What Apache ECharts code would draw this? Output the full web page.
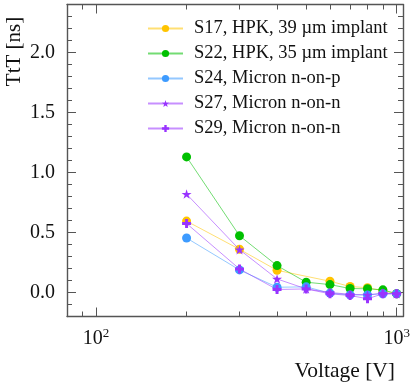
<!DOCTYPE html>
<html>
<head>
<meta charset="utf-8">
<script src="https://cdn.jsdelivr.net/npm/echarts@6/dist/echarts.min.js"></script>
<style>
  html, body { margin: 0; padding: 0; background: #fff; }
  #chart { width: 415px; height: 382px; }
</style>
</head>
<body>
<div id="chart"></div>
<script>
// bias voltages [V]
var voltages = [200, 300, 400, 500, 600, 700, 800, 900, 1000];
// TtT [ns] per sensor (null = no point)
var s17 = [0.595, 0.36, 0.185, null, 0.094, 0.05, 0.04, 0.015, -0.01];
var s22 = [1.13, 0.473, 0.224, 0.086, 0.066, 0.033, 0.031, 0.022, -0.01];
var s24 = [0.454, 0.188, 0.044, 0.047, -0.005, -0.02, -0.02, -0.01, -0.01];
var s27 = [0.82, 0.357, 0.113, 0.03, 0.0, -0.015, -0.02, -0.005, -0.01];
var s29 = [0.575, 0.196, 0.025, 0.03, -0.011, -0.025, -0.052, -0.011, -0.011];

var seriesNames = [
  'S17, HPK, 39 µm implant',
  'S22, HPK, 35 µm implant',
  'S24, Micron n-on-p',
  'S27, Micron n-on-n',
  'S29, Micron n-on-n'
];

// tick labels / tick positions
var yMajorTicks = [0, 0.5, 1.0, 1.5, 2.0];
var yMinorTicks = [-0.1, 0.1, 0.2, 0.3, 0.4, 0.6, 0.7, 0.8, 0.9, 1.1, 1.2, 1.3, 1.4,
                   1.6, 1.7, 1.8, 1.9, 2.1, 2.2, 2.3];
var xMinorTicks = [90, 200, 300, 400, 500, 600, 700, 800, 900];

var colors = ['#ffc400', '#00c000', '#3d9bff', '#9933ff', '#9933ff'];
var STAR = 'path://M0,-100 L22,-31 L95,-31 L36,12 L59,81 L0,38 L-59,81 L-36,12 L-95,-31 L-22,-31Z';
var PLUS = 'path://M-33,-100 L33,-100 L33,-33 L100,-33 L100,33 L33,33 L33,100 L-33,100 L-33,33 L-100,33 L-100,-33 L-33,-33Z';
var symbols = ['circle', 'circle', 'circle', STAR, PLUS];
var symbolSizes = [9, 9, 9, 10, 9];

var FONT = '"Liberation Serif", "DejaVu Serif", serif';
var axisColor = '#555';
var xMin = 80, xMax = 1050, yMin = -0.2, yMax = 2.4;

function pairs(ys) {
  return voltages.map(function (v, i) {
    return [v, ys[i] === null ? '-' : ys[i]];
  });
}

var allData = [s17, s22, s24, s27, s29];

var series = allData.map(function (ys, i) {
  return {
    name: seriesNames[i],
    type: 'line',
    xAxisIndex: 0,
    yAxisIndex: 0,
    data: pairs(ys),
    connectNulls: true,
    symbol: symbols[i],
    symbolSize: symbolSizes[i],
    symbolKeepAspect: true,
    showSymbol: true,
    itemStyle: { color: colors[i], opacity: 1 },
    lineStyle: { color: colors[i], width: 1, opacity: 0.55 },
    emphasis: { disabled: true },
    z: 2 + i
  };
});

var lineStyle = { color: axisColor, width: 1.4 };
var hiddenLine = { color: axisColor, width: 1, opacity: 0 };
var tickStyle = { color: axisColor, width: 1 };

// every axis sits on the frame edge, never on zero
function tickAxis(base, extra) {
  return Object.assign({
    splitLine: { show: false },
    axisLabel: { show: false },
    axisLine: { show: true, onZero: false, lineStyle: hiddenLine },
    silent: true
  }, base, extra);
}

var xLogLabel = function (v) {
  var e = Math.round(Math.log10(v));
  if (Math.abs(Math.pow(10, e) - v) > 1e-6 * v) return '';
  return '{b|10}{s|' + e + '}';
};

var xAxes = [
  tickAxis({ type: 'log', min: xMin, max: xMax, position: 'bottom' }, {
    axisLine: { show: true, onZero: false, lineStyle: lineStyle },
    axisTick: { show: true, inside: true, length: 9, lineStyle: tickStyle },
    axisLabel: {
      show: true, margin: 11, formatter: xLogLabel,
      showMinLabel: false, showMaxLabel: false,
      rich: {
        b: { fontFamily: FONT, fontSize: 20, color: '#111', lineHeight: 22 },
        s: { fontFamily: FONT, fontSize: 13, color: '#111', verticalAlign: 'top', lineHeight: 13 }
      }
    }
  }),
  tickAxis({ type: 'log', min: xMin, max: xMax, position: 'top' }, {
    axisLine: { show: true, onZero: false, lineStyle: lineStyle },
    axisTick: { show: true, inside: true, length: 9, lineStyle: tickStyle }
  }),
  tickAxis({ type: 'value', min: Math.log10(xMin), max: Math.log10(xMax), position: 'bottom' }, {
    axisTick: { show: true, inside: true, length: 5, lineStyle: tickStyle,
      customValues: xMinorTicks.map(function (t) { return Math.log10(t); }) }
  }),
  tickAxis({ type: 'value', min: Math.log10(xMin), max: Math.log10(xMax), position: 'top' }, {
    axisTick: { show: true, inside: true, length: 5, lineStyle: tickStyle,
      customValues: xMinorTicks.map(function (t) { return Math.log10(t); }) }
  })
];

var yAxes = [
  tickAxis({ type: 'value', min: yMin, max: yMax, position: 'left' }, {
    axisLine: { show: true, onZero: false, lineStyle: lineStyle },
    axisTick: { show: true, inside: true, length: 9, lineStyle: tickStyle, customValues: yMajorTicks },
    axisLabel: {
      show: true, margin: 12, customValues: yMajorTicks,
      fontFamily: FONT, fontSize: 20, color: '#111',
      formatter: function (v) { return v.toFixed(1); }
    }
  }),
  tickAxis({ type: 'value', min: yMin, max: yMax, position: 'right' }, {
    axisLine: { show: true, onZero: false, lineStyle: lineStyle },
    axisTick: { show: true, inside: true, length: 9, lineStyle: tickStyle, customValues: yMajorTicks }
  }),
  tickAxis({ type: 'value', min: yMin, max: yMax, position: 'left' }, {
    axisTick: { show: true, inside: true, length: 5, lineStyle: tickStyle, customValues: yMinorTicks }
  }),
  tickAxis({ type: 'value', min: yMin, max: yMax, position: 'right' }, {
    axisTick: { show: true, inside: true, length: 5, lineStyle: tickStyle, customValues: yMinorTicks }
  })
];

var chart = echarts.init(document.getElementById('chart'));
chart.setOption({
  animation: false,
  backgroundColor: '#fff',
  grid: { left: 67, right: 12, top: 4.5, bottom: 65.5, containLabel: false },
  xAxis: xAxes,
  yAxis: yAxes,
  legend: {
    orient: 'vertical',
    left: 142,
    top: 14,
    itemWidth: 35,
    itemHeight: 9,
    itemGap: 6,
    selectedMode: false,
    data: seriesNames,
    textStyle: { fontFamily: FONT, fontSize: 18.5, color: '#111', lineHeight: 18, padding: [0, 0, 0, 6] }
  },
  graphic: [
    {
      type: 'text', x: 14.5, y: 51.5, rotation: Math.PI / 2,
      style: { text: 'TtT [ns]', fontFamily: FONT, fontSize: 21, fill: '#111', align: 'center', verticalAlign: 'middle' }
    },
    {
      type: 'text', x: 395, y: 371,
      style: { text: 'Voltage [V]', fontFamily: FONT, fontSize: 21.5, fill: '#111', align: 'right', verticalAlign: 'middle' }
    }
  ],
  series: series
});
</script>
</body>
</html>
